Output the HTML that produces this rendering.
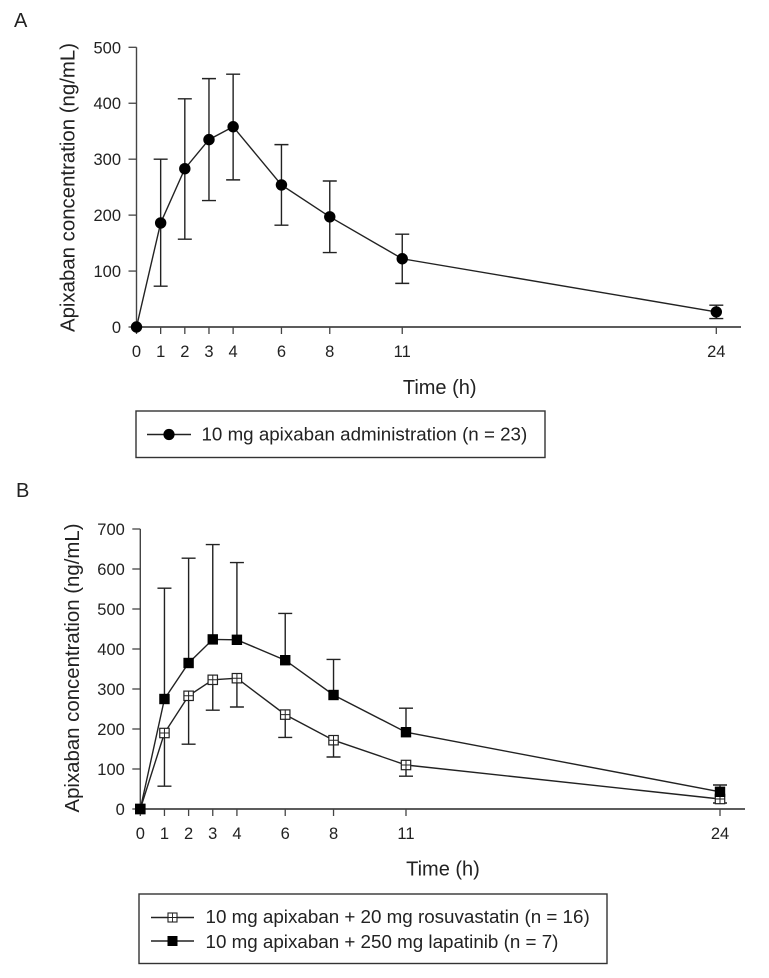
<!DOCTYPE html>
<html lang="en">
<head>
<meta charset="utf-8">
<title>Apixaban concentration over time</title>
<style>
html,body{margin:0;padding:0;background:#fff;width:769px;height:978px;overflow:hidden}
svg{display:block;filter:blur(0.35px)}
text{font-family:"Liberation Sans",Arial,sans-serif;fill:#222}
</style>
</head>
<body>
<svg id="chart" width="769" height="978" viewBox="0 0 769 978" xmlns="http://www.w3.org/2000/svg">
  <text x="14" y="27" font-size="20">A</text>
  <text x="16" y="497" font-size="20">B</text>

  <g id="panelA"></g>
  <g id="panelB"></g>

  <text transform="translate(74.5,187.5) rotate(-90)" text-anchor="middle" font-size="20.4">Apixaban concentration (ng/mL)</text>
  <text x="439.7" y="394" text-anchor="middle" font-size="20">Time (h)</text>
  <text transform="translate(79,668) rotate(-90)" text-anchor="middle" font-size="20.4">Apixaban concentration (ng/mL)</text>
  <text x="443" y="875.5" text-anchor="middle" font-size="20">Time (h)</text>

  <g>
    <rect x="136" y="411" width="409" height="46.5" fill="#fff" stroke="#333" stroke-width="1.4"/>
    <g>
      <line x1="147" y1="434.5" x2="191" y2="434.5" stroke="#222" stroke-width="1.4"/>
      <circle cx="169" cy="434.5" r="5.6" fill="#000"/>
      <text x="201.5" y="440.5" font-size="18.75">10 mg apixaban administration (n = 23)</text>
    </g>
  </g>

  <g>
    <rect x="139" y="894" width="468" height="69.5" fill="#fff" stroke="#333" stroke-width="1.4"/>
    <g>
      <line x1="151" y1="917.5" x2="194" y2="917.5" stroke="#222" stroke-width="1.4"/>
      <rect x="168" y="913" width="9" height="9" fill="#fff" stroke="#222" stroke-width="1.1"/>
      <path d="M172.5 913V922M168 917.5H177" stroke="#222" stroke-width="0.9" fill="none"/>
      <text x="205.5" y="923" font-size="18.8">10 mg apixaban + 20 mg rosuvastatin (n = 16)</text>
    </g>
    <g>
      <line x1="151" y1="941" x2="194" y2="941" stroke="#222" stroke-width="1.4"/>
      <rect x="167.5" y="936" width="10" height="10" fill="#000"/>
      <text x="205.5" y="948" font-size="18.8">10 mg apixaban + 250 mg lapatinib (n = 7)</text>
    </g>
  </g>
</svg>
<script>
var hours = [0, 1, 2, 3, 4, 6, 8, 11, 24];
var hourLabels = ["0", "1", "2", "3", "4", "6", "8", "11", "24"];

var yTicksA = [0, 100, 200, 300, 400, 500];
var apixabanMean = [0, 186, 283, 335, 358, 254, 197, 122, 27];
var apixabanUpper = [0, 300, 408, 444, 452, 326, 261, 166, 39];
var apixabanLower = [0, 73, 157, 226, 263, 182, 133, 78, 15];

var yTicksB = [0, 100, 200, 300, 400, 500, 600, 700];
var rosuvastatinMean = [0, 190, 283, 323, 327, 236, 172, 110, 25];
var rosuvastatinLower = [0, 57, 162, 247, 255, 179, 130, 82, 15];
var lapatinibMean = [0, 275, 365, 424, 423, 372, 285, 192, 43];
var lapatinibUpper = [0, 552, 627, 661, 616, 489, 374, 252, 60];

var NS = 'http://www.w3.org/2000/svg';

function make(parent, tag, attrs) {
  var el = document.createElementNS(NS, tag);
  for (var k in attrs) el.setAttribute(k, attrs[k]);
  parent.appendChild(el);
  return el;
}

function scale(d0, d1, r0, r1) {
  return function (v) { return r0 + (v - d0) / (d1 - d0) * (r1 - r0); };
}

function drawAxes(g, x, y, xEnd, yTicks, prefix) {
  var x0 = x(0), y0 = y(0), yTop = y(yTicks[yTicks.length - 1]);
  var yLine = make(g, 'line', {x1: x0, y1: y0, x2: x0, y2: yTop, stroke: '#444', 'stroke-width': 1.4});
  
  
  var xLine = make(g, 'line', {x1: x0, y1: y0, x2: xEnd, y2: y0, stroke: '#444', 'stroke-width': 1.7});
  
  
  yTicks.forEach(function (t) {
    var tick = make(g, 'line', {x1: x0 - 8, y1: y(t), x2: x0, y2: y(t), stroke: '#444', 'stroke-width': 1.3});
    
    
    var label = make(g, 'text', {x: x0 - 15.5, y: y(t) + 6, 'text-anchor': 'end', 'font-size': 16.5});
    label.textContent = String(t);
    
    
  });
  hours.forEach(function (h, i) {
    var tick = make(g, 'line', {x1: x(h), y1: y0, x2: x(h), y2: y0 + 7, stroke: '#444', 'stroke-width': 1.3});
    
    
    var label = make(g, 'text', {x: x(h), y: y0 + 30, 'text-anchor': 'middle', 'font-size': 16.5});
    label.textContent = hourLabels[i];
    
    
  });
}

function drawError(g, x, y, from, to, name) {
  hours.forEach(function (h, i) {
    if (h === 0) return;
    var cap = 7;
    var d = 'M' + x(h) + ' ' + y(from[i]) + 'V' + y(to[i]) + 'M' + (x(h) - cap) + ' ' + y(to[i]) + 'H' + (x(h) + cap);
    var p = make(g, 'path', {d: d, stroke: '#222', 'stroke-width': 1.4, fill: 'none'});
    
    
  });
}

function drawLine(g, x, y, values, name) {
  var pts = hours.map(function (h, i) { return x(h) + ',' + y(values[i]); }).join(' ');
  var line = make(g, 'polyline', {points: pts, fill: 'none', stroke: '#222', 'stroke-width': 1.4});
  
  
}

var xA = scale(0, 24, 136.5, 716.3);
var yA = scale(0, 500, 327, 47.3);
var gA = document.getElementById('panelA');
drawAxes(gA, xA, yA, 741, yTicksA, 'panel-a');
drawError(gA, xA, yA, apixabanMean, apixabanUpper, 'apixaban-error-upper');
drawError(gA, xA, yA, apixabanMean, apixabanLower, 'apixaban-error-lower');
drawLine(gA, xA, yA, apixabanMean, 'apixaban-line');
hours.forEach(function (h, i) {
  var c = make(gA, 'circle', {cx: xA(h), cy: yA(apixabanMean[i]), r: 5.7, fill: '#000'});
  
  
});

var xB = scale(0, 24, 140.3, 720);
var yB = scale(0, 700, 809, 529);
var gB = document.getElementById('panelB');
drawAxes(gB, xB, yB, 745, yTicksB, 'panel-b');
drawError(gB, xB, yB, rosuvastatinMean, rosuvastatinLower, 'rosuvastatin-error-lower');
drawError(gB, xB, yB, lapatinibMean, lapatinibUpper, 'lapatinib-error-upper');
drawLine(gB, xB, yB, rosuvastatinMean, 'rosuvastatin-line');
drawLine(gB, xB, yB, lapatinibMean, 'lapatinib-line');
hours.forEach(function (h, i) {
  var cx = xB(h), cy = yB(rosuvastatinMean[i]);
  var r = make(gB, 'rect', {x: cx - 4.7, y: cy - 4.7, width: 9.4, height: 9.4, fill: '#fff', stroke: '#222', 'stroke-width': 1.2});
  
  
  var cross = make(gB, 'path', {d: 'M' + cx + ' ' + (cy - 4.7) + 'V' + (cy + 4.7) + 'M' + (cx - 4.7) + ' ' + cy + 'H' + (cx + 4.7), stroke: '#222', 'stroke-width': 1, fill: 'none'});
  
  
});
hours.forEach(function (h, i) {
  var s = make(gB, 'rect', {x: xB(h) - 5.2, y: yB(lapatinibMean[i]) - 5.2, width: 10.4, height: 10.4, fill: '#000'});
  
  
});
</script>
</body>
</html>
